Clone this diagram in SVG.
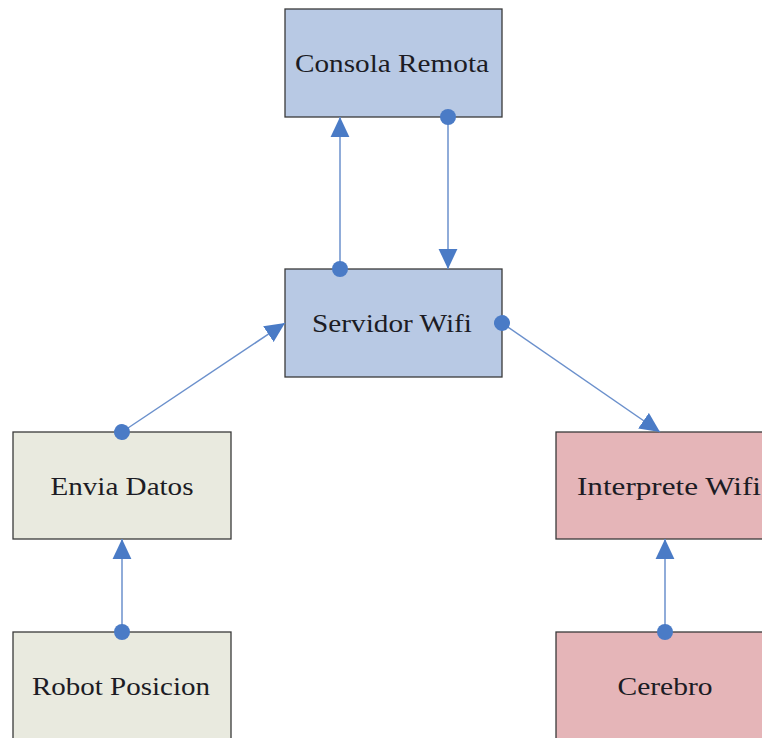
<svg xmlns="http://www.w3.org/2000/svg" width="762" height="738" viewBox="0 0 762 738">
  <style>
    .box { stroke: #3a3a3a; stroke-width: 1.3; }
    .blue { fill: #b8c9e4; }
    .grey { fill: #e9eadf; }
    .pink { fill: #e5b5b8; }
    .label { font-family: "Liberation Serif", "DejaVu Serif", serif; font-size: 26px; fill: #1c1c24; text-anchor: middle; }
    .link { stroke: #6b90cc; stroke-width: 1.5; fill: none; marker-start: url(#dot); marker-end: url(#head); }
  </style>
  <defs>
    <marker id="head" markerUnits="userSpaceOnUse" markerWidth="20" markerHeight="20" viewBox="0 0 17 16" refX="17" refY="8" orient="auto">
      <path d="M0,0 L17,8 L0,16 Z" fill="#4a7bc6"/>
    </marker>
    <marker id="dot" markerUnits="userSpaceOnUse" markerWidth="18" markerHeight="18" viewBox="0 0 18 18" refX="9" refY="9" orient="auto">
      <circle cx="9" cy="9" r="8" fill="#4a7bc6"/>
    </marker>
  </defs>
  <rect width="762" height="738" fill="#ffffff"/>

  <g id="consola-remota">
    <rect class="box blue" x="285" y="9" width="217" height="108"/>
    <text class="label" x="392" y="72" textLength="194" lengthAdjust="spacingAndGlyphs">Consola Remota</text>
  </g>
  <g id="servidor-wifi">
    <rect class="box blue" x="285" y="269" width="217" height="108"/>
    <text class="label" x="392" y="332" textLength="160" lengthAdjust="spacingAndGlyphs">Servidor Wifi</text>
  </g>
  <g id="envia-datos">
    <rect class="box grey" x="13" y="432" width="218" height="107"/>
    <text class="label" x="122" y="495" textLength="143" lengthAdjust="spacingAndGlyphs">Envia Datos</text>
  </g>
  <g id="interprete-wifi">
    <rect class="box pink" x="556" y="432" width="226" height="107"/>
    <text class="label" x="669" y="495" textLength="184" lengthAdjust="spacingAndGlyphs">Interprete Wifi</text>
  </g>
  <g id="robot-posicion">
    <rect class="box grey" x="13" y="632" width="218" height="120"/>
    <text class="label" x="121" y="695" textLength="178" lengthAdjust="spacingAndGlyphs">Robot Posicion</text>
  </g>
  <g id="cerebro">
    <rect class="box pink" x="556" y="632" width="226" height="120"/>
    <text class="label" x="665" y="695" textLength="95" lengthAdjust="spacingAndGlyphs">Cerebro</text>
  </g>

  <g id="connectors">
    <line class="link" x1="340" y1="269" x2="340" y2="117"/>
    <line class="link" x1="448" y1="117" x2="448" y2="269"/>
    <line class="link" x1="122" y1="432" x2="285" y2="323"/>
    <line class="link" x1="502" y1="323" x2="660" y2="432"/>
    <line class="link" x1="122" y1="632" x2="122" y2="539"/>
    <line class="link" x1="665" y1="632" x2="665" y2="539"/>
  </g>
</svg>
